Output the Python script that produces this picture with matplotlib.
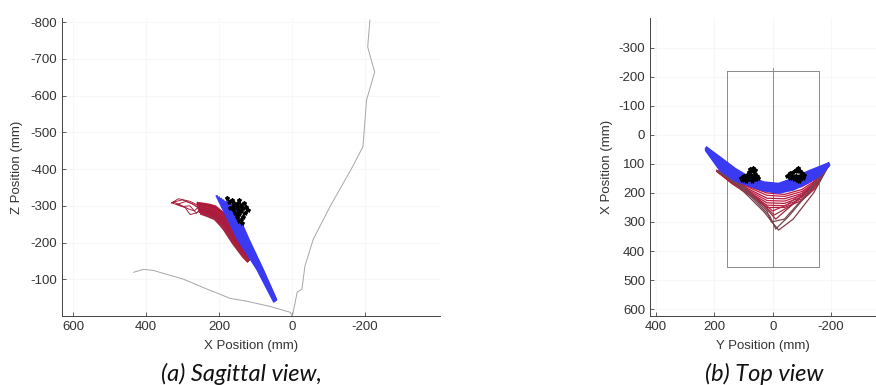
import matplotlib.pyplot as plt

# ---- sagittal view (X, Z) ----
sag_body_x = [-213, -207, -226, -204, -194, -166, -104, -58, -35, -27, -14, -3, 0]
sag_body_z = [-805, -732, -664, -588, -461, -407, -298, -209, -135, -73, -65, -10, 0]
sag_arm_x = [434, 407, 380, 297, 230, 177, 170, 123, 60, 5, 0]
sag_arm_z = [-119, -127, -124, -100, -72, -51, -48, -40, -26, -10, 0]

sag_blue_x = [
    [206, 150, 96, 50],
    [200, 146, 94, 49],
    [194, 141, 91, 48],
    [188, 137, 88, 47],
    [181, 132, 86, 46],
    [174, 127, 84, 45],
    [167, 122, 82, 45],
    [160, 118, 81, 44],
]
sag_blue_z = [
    [-326, -212, -128, -40],
    [-322, -211, -128, -41],
    [-318, -210, -128, -42],
    [-314, -209, -128, -43],
    [-310, -208, -128, -44],
    [-306, -207, -128, -44],
    [-303, -207, -128, -45],
    [-300, -206, -128, -46],
]

sag_red_x = [
    [257, 230, 211, 188, 172, 156, 140, 122],
    [256, 230, 211, 189, 174, 157, 140, 123],
    [255, 230, 211, 190, 176, 158, 139, 123],
    [254, 230, 211, 191, 178, 159, 138, 122],
    [253, 230, 211, 192, 180, 160, 137, 122],
    [251, 230, 211, 193, 181, 160, 136, 122],
    [250, 230, 211, 194, 182, 161, 135, 122],
    [247, 230, 211, 195, 184, 161, 133, 122],
]
sag_red_z = [
    [-306, -302, -297, -278, -252, -223, -191, -155],
    [-302, -297, -292, -274, -249, -220, -187, -155],
    [-298, -292, -287, -270, -246, -216, -184, -154],
    [-295, -289, -283, -266, -244, -213, -180, -154],
    [-292, -286, -279, -262, -242, -210, -176, -153],
    [-288, -282, -274, -257, -240, -206, -172, -153],
    [-284, -278, -270, -253, -237, -202, -167, -152],
    [-279, -273, -265, -248, -234, -199, -162, -151],
]
sag_red_colors = ['#b5173c', '#a91a3a', '#b81d42', '#a3203c', '#b41a3e', '#9e2040',
                  '#b3183c', '#a52442']
sag_loop_x = [
    [330, 311, 279, 257, 247, 261, 279, 293, 330],
    [325, 300, 275, 257, 268, 285, 305, 325],
    [315, 290, 270, 252, 262, 280, 300, 315],
]
sag_loop_z = [
    [-308, -319, -312, -301, -290, -281, -276, -295, -308],
    [-310, -316, -306, -296, -286, -292, -302, -310],
    [-304, -312, -304, -290, -280, -300, -298, -304],
]

sag_blob_x = [178, 172, 165, 160, 150, 145, 140, 132, 125, 122, 130, 135, 140, 138,
              145, 150, 155, 162, 170, 158, 148, 140, 135, 150, 160, 145]
sag_blob_z = [-322, -310, -315, -300, -305, -315, -300, -308, -298, -288, -280, -270,
              -262, -252, -258, -270, -280, -290, -295, -300, -290, -285, -295, -298,
              -308, -278]

# ---- top view (Y, X) ----
top_rect_y = [157, -157, -157, 157, 157]
top_rect_x = [-220, -220, 455, 455, -220]
top_mid_y = [0, 0]
top_mid_x = [-232, 455]

top_blue_y = [226, 180, 130, 80, 30, -20, -70, -120, -160, -190]
top_blue_x = [
    [46, 80, 118, 148, 165, 170, 152, 128, 112, 100],
    [47, 86, 124, 152, 170, 175, 158, 133, 116, 101],
    [48, 93, 130, 156, 175, 180, 164, 139, 121, 102],
    [50, 100, 136, 161, 180, 186, 170, 145, 126, 103],
    [51, 107, 142, 165, 184, 191, 176, 151, 130, 104],
    [53, 114, 148, 169, 187, 194, 181, 157, 134, 105],
    [55, 120, 155, 173, 190, 198, 187, 163, 139, 106],
]

top_red_y = [
    [192, 140, 80, 20, -40, -100, -150, -190],
    [192, 140, 80, 20, -40, -100, -150, -190],
    [192, 140, 80, 20, -40, -100, -150, -190],
    [192, 140, 80, 20, -40, -100, -150, -190],
    [192, 140, 80, 20, -40, -100, -150, -190],
    [192, 140, 80, 20, -40, -100, -150, -190],
    [192, 140, 80, 20, -40, -100, -150, -190],
    [192, 140, 80, 20, -40, -100, -150, -190],
    [190, 120, 50, 0, -50, -120, -190],
    [190, 110, 40, -5, -60, -130, -190],
    [190, 100, 30, -10, -70, -140, -190],
    [190, 100, 20, 5, -40, -120, -190],
    [190, 100, 10, -10, -55, -130, -190],
    [190, 120, 30, -20, -70, -140, -190],
]
top_red_x = [
    [122, 150, 172, 190, 192, 178, 150, 105],
    [122, 152, 178, 200, 205, 188, 155, 105],
    [123, 155, 182, 208, 212, 195, 160, 106],
    [124, 158, 188, 218, 220, 202, 165, 106],
    [124, 160, 193, 226, 228, 208, 168, 107],
    [125, 163, 198, 234, 236, 214, 172, 107],
    [125, 165, 203, 242, 244, 220, 176, 108],
    [126, 168, 208, 250, 250, 226, 180, 108],
    [124, 170, 220, 262, 240, 185, 108],
    [124, 172, 232, 276, 245, 182, 108],
    [124, 175, 245, 290, 238, 172, 107],
    [124, 180, 262, 300, 290, 200, 108],
    [124, 185, 280, 324, 280, 190, 108],
    [124, 175, 265, 328, 290, 200, 108],
]
top_red_colors = ['#c8143c', '#be1538', '#c41a44', '#b3183a', '#c9204a', '#b01c3c',
                  '#c2243f', '#a8203c', '#b8294a', '#a2303f', '#9c2a45', '#85454f',
                  '#6e4a52', '#7e3c4a']

top_blob1_y = [110, 100, 95, 88, 80, 78, 72, 68, 62, 60, 55, 50, 58, 66, 72, 76, 85, 92,
               98, 105, 90, 75]
top_blob1_x = [150, 140, 150, 138, 128, 118, 125, 115, 122, 135, 140, 148, 152, 146, 160,
               150, 152, 160, 148, 155, 145, 138]
top_blob2_y = [-50, -58, -64, -70, -78, -84, -88, -94, -100, -108, -104, -96, -90, -84,
               -78, -72, -66, -58, -80, -92]
top_blob2_x = [140, 132, 138, 128, 120, 126, 115, 124, 130, 138, 148, 150, 160, 155, 150,
               152, 145, 148, 140, 142]

blue = '#3a3af2'
gray = '#a6a6a6'
axis_color = '#444444'

plt.rcParams['font.family'] = ['Liberation Sans', 'DejaVu Sans']
plt.rcParams['axes.unicode_minus'] = False
fig = plt.figure(figsize=(8.76, 3.85), dpi=100)
ax1 = fig.add_axes([62 / 876, 69 / 385, 378 / 876, 298 / 385])
ax2 = fig.add_axes([650 / 876, 69 / 385, 226 / 876, 298 / 385])

# sagittal
ax1.plot(sag_body_x, sag_body_z, color=gray, lw=0.7)
ax1.plot(sag_arm_x, sag_arm_z, color=gray, lw=0.7)
for i in range(len(sag_loop_x)):
    ax1.plot(sag_loop_x[i], sag_loop_z[i], color='#a8203c', lw=0.7)
for i in range(len(sag_red_x)):
    ax1.plot(sag_red_x[i], sag_red_z[i], color=sag_red_colors[i], lw=2.4)
for i in range(len(sag_blue_x)):
    ax1.plot(sag_blue_x[i], sag_blue_z[i], color=blue, lw=1.6)
ax1.plot(sag_blob_x, sag_blob_z, color='black', lw=1.6, marker='*', ms=3)

ax1.set_xlim(630, -405)
ax1.set_ylim(0, -811)
ax1.set_xticks([600, 400, 200, 0, -200])
ax1.set_yticks([-800, -700, -600, -500, -400, -300, -200, -100])
ax1.set_xlabel('X Position (mm)')
ax1.set_ylabel('Z Position (mm)')
ax1.xaxis.set_label_coords(0.5, -0.081)
ax1.yaxis.set_label_coords(-0.103, 0.5)

# top view
ax2.plot(top_rect_y, top_rect_x, color='#8a8a8a', lw=0.7)
ax2.plot(top_mid_y, top_mid_x, color='#8a8a8a', lw=0.7)
for i in range(len(top_red_y)):
    ax2.plot(top_red_y[i], top_red_x[i], color=top_red_colors[i], lw=0.9)
for xs in top_blue_x:
    ax2.plot(top_blue_y, xs, color=blue, lw=2.2)
ax2.plot(top_blob1_y, top_blob1_x, color='black', lw=1.6, marker='*', ms=3)
ax2.plot(top_blob2_y, top_blob2_x, color='black', lw=1.6, marker='*', ms=3)

ax2.set_xlim(421, -354)
ax2.set_ylim(624, -403)
ax2.set_xticks([400, 200, 0, -200])
ax2.set_yticks([-300, -200, -100, 0, 100, 200, 300, 400, 500, 600])
ax2.set_xlabel('Y Position (mm)')
ax2.set_ylabel('X Position (mm)')
ax2.xaxis.set_label_coords(0.5, -0.081)
ax2.yaxis.set_label_coords(-0.164, 0.5)

for ax in (ax1, ax2):
    ax.set_aspect('auto')
    ax.spines['top'].set_visible(False)
    ax.spines['right'].set_visible(False)
    for s in ('left', 'bottom'):
        ax.spines[s].set_color(axis_color)
        ax.spines[s].set_linewidth(0.7)
    ax.tick_params(direction='in', length=3, width=0.6, colors=axis_color,
                   labelsize=9.5, labelcolor='#333333')
    ax.xaxis.label.set_color('#333333')
    ax.yaxis.label.set_color('#333333')
    ax.xaxis.label.set_size(9.5)
    ax.yaxis.label.set_size(9.5)
    ax.grid(True, color='#f7f7f7', lw=0.8)
    ax.set_axisbelow(True)

fig.text(241 / 876, 1 - 374 / 385, '(a) Sagittal view,', ha='center', va='center',
         fontsize=17, style='italic', family='Lato', color='#111111')
fig.text(764 / 876, 1 - 374 / 385, '(b) Top view', ha='center', va='center',
         fontsize=17, style='italic', family='Lato', color='#111111')

fig.savefig('out.png', dpi=100)
